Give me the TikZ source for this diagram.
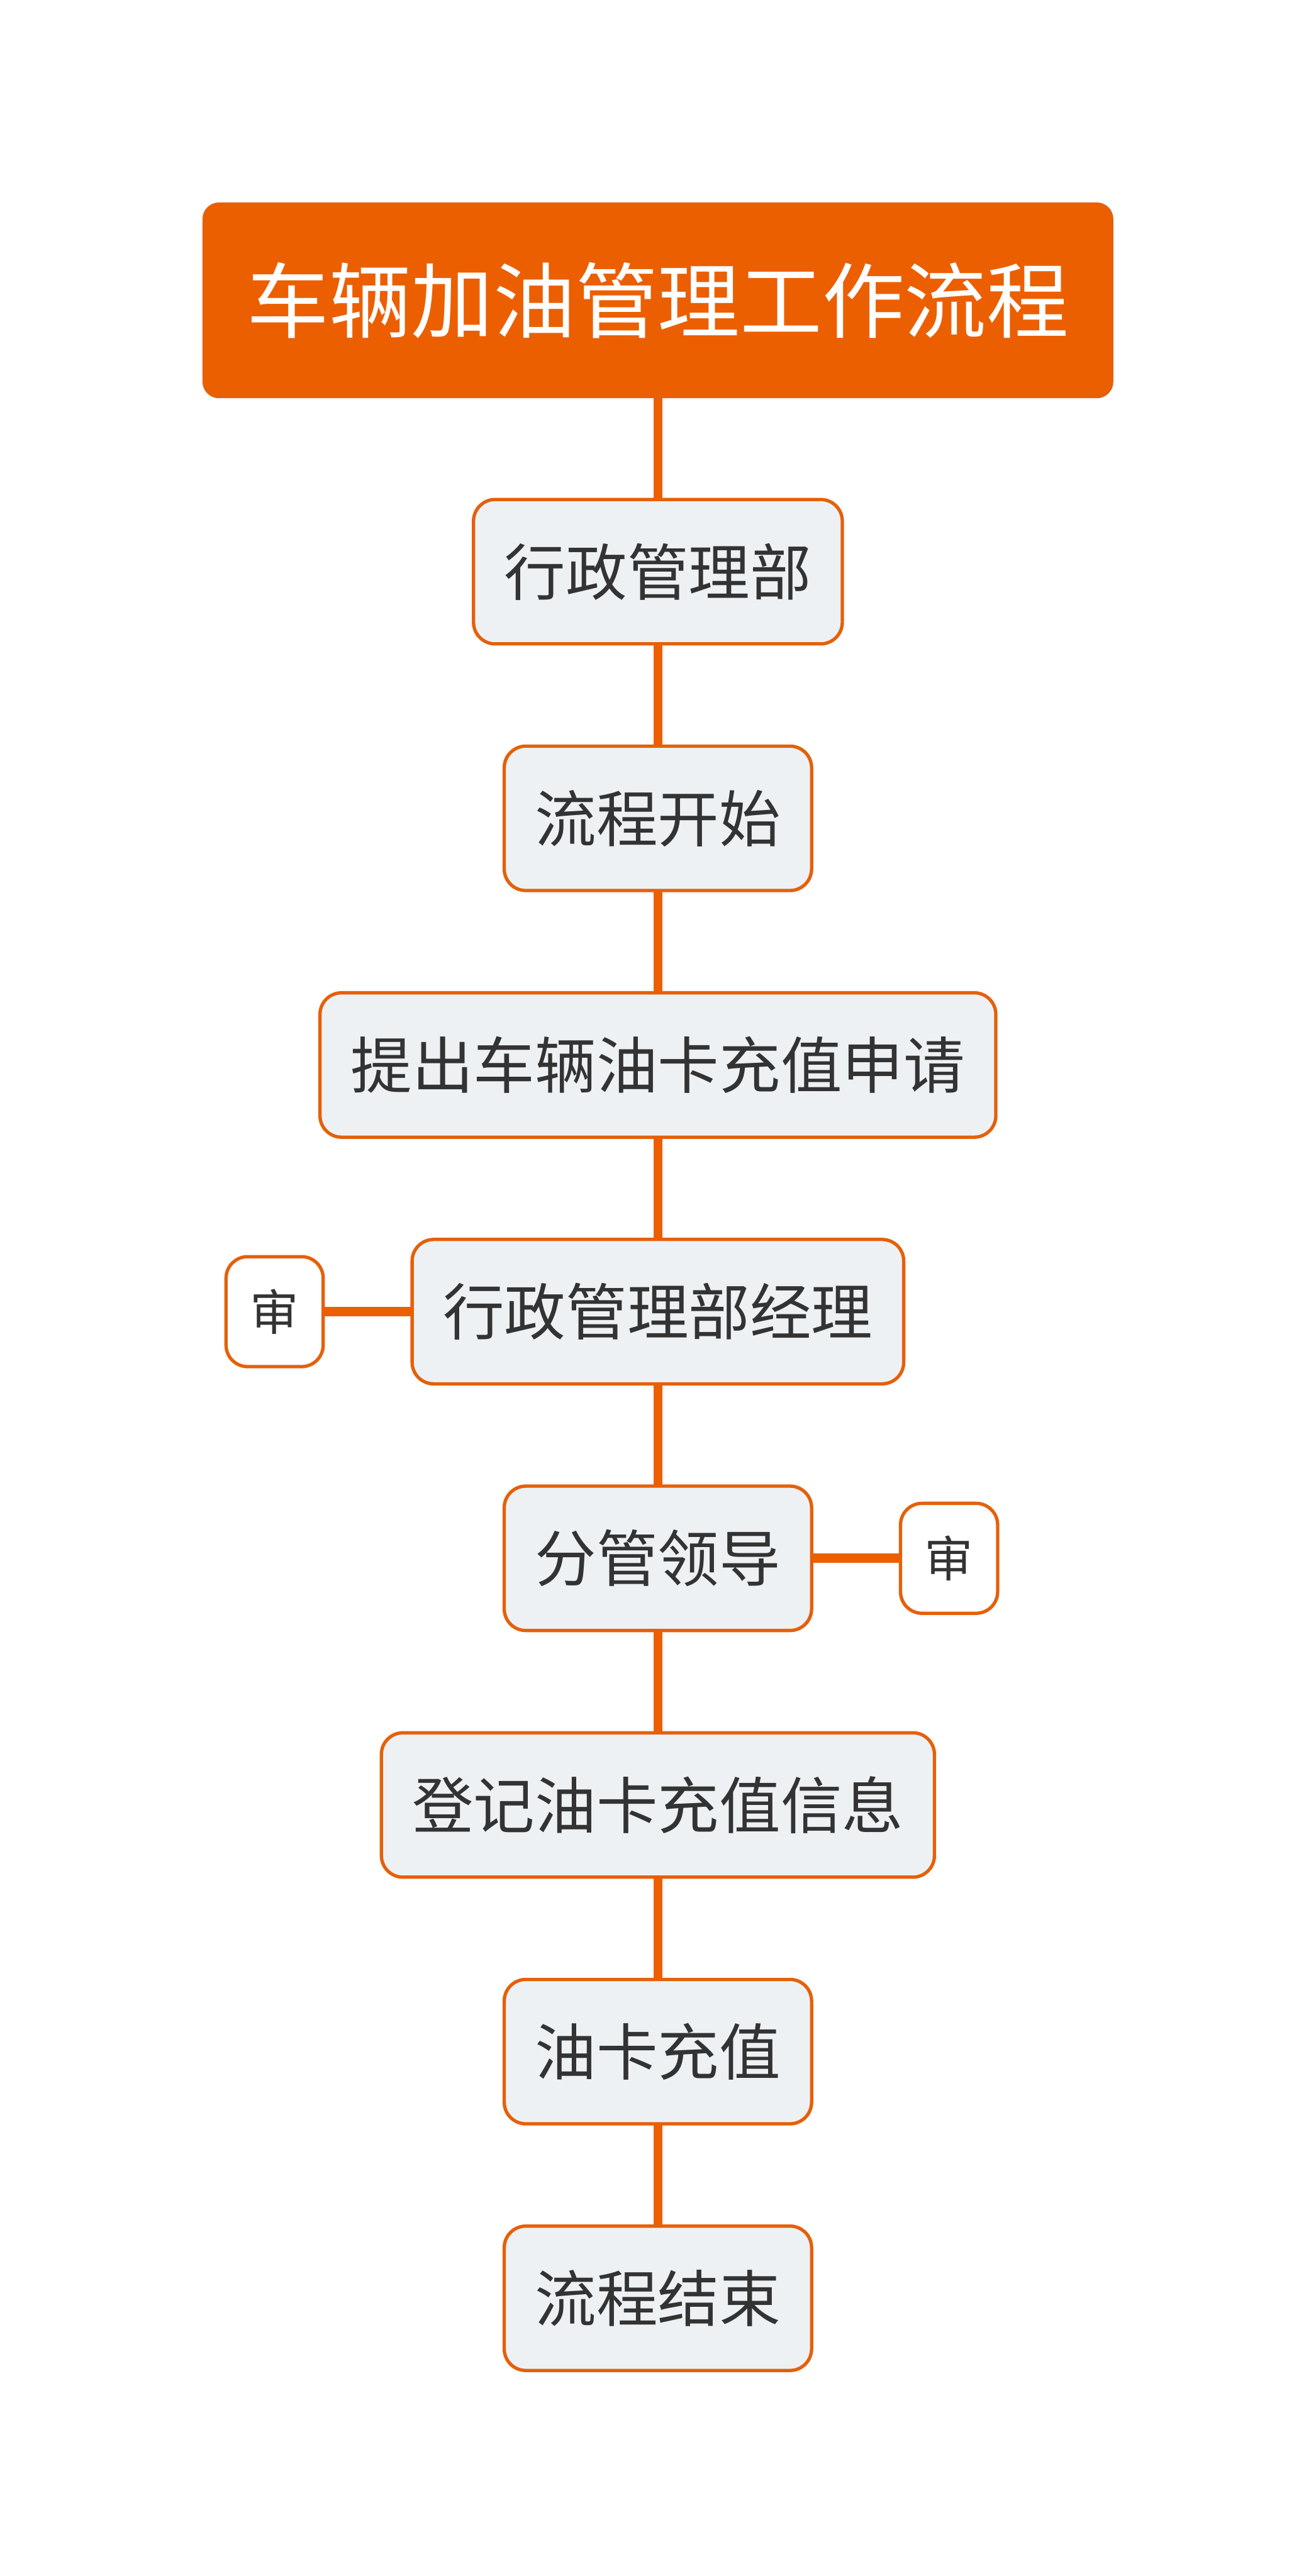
\documentclass[tikz,border=0pt]{standalone}
\usepackage{fontspec}
\setmainfont{Noto Sans CJK SC}
\usetikzlibrary{positioning}
\definecolor{flOrange}{HTML}{EC5F00}
\definecolor{flEdge}{HTML}{E5600A}
\definecolor{flFill}{HTML}{EEF1F4}
\definecolor{flText}{HTML}{333333}

\begin{document}
\begin{tikzpicture}[
  node distance=1.99cm,
  titlebox/.style={fill=flOrange, draw=flEdge, line width=0.04cm, rounded corners=0.3cm,
    text=white, font=\fontsize{45.5}{52}\selectfont, minimum width=17.68cm,
    minimum height=3.77cm, outer sep=0pt},
  stepbox/.style={draw=flEdge, line width=0.065cm, fill=flFill, rounded corners=0.42cm,
    text=flText, font=\fontsize{34}{40}\selectfont, minimum height=2.81cm,
    inner xsep=0.6cm, outer sep=0pt},
  checkbox/.style={stepbox, fill=white, font=\fontsize{27}{32}\selectfont,
    minimum width=1.89cm, minimum height=2.14cm, inner xsep=0pt},
  link/.style={draw=flOrange, line width=0.18cm}
]
  \useasboundingbox (0,0) rectangle (25.6,-50.13);
  \node[titlebox] (title) at (12.8,-5.845) {车辆加油管理工作流程};
  % main chain
  \foreach \name/\lbl [remember=\name as \prev (initially title)] in {
    dept/行政管理部,
    start/流程开始,
    apply/提出车辆油卡充值申请,
    mgr/行政管理部经理,
    lead/分管领导,
    record/登记油卡充值信息,
    charge/油卡充值,
    finish/流程结束}{
    \node[stepbox, below=of \prev] (\name) {\lbl};
    \draw[link] (\prev) -- (\name);
  }
  % review notes
  \node[checkbox, left=1.73cm of mgr] (chkL) {审};
  \node[checkbox, right=1.73cm of lead] (chkR) {审};
  \draw[link] (mgr) -- (chkL);
  \draw[link] (lead) -- (chkR);
\end{tikzpicture}
\end{document}
